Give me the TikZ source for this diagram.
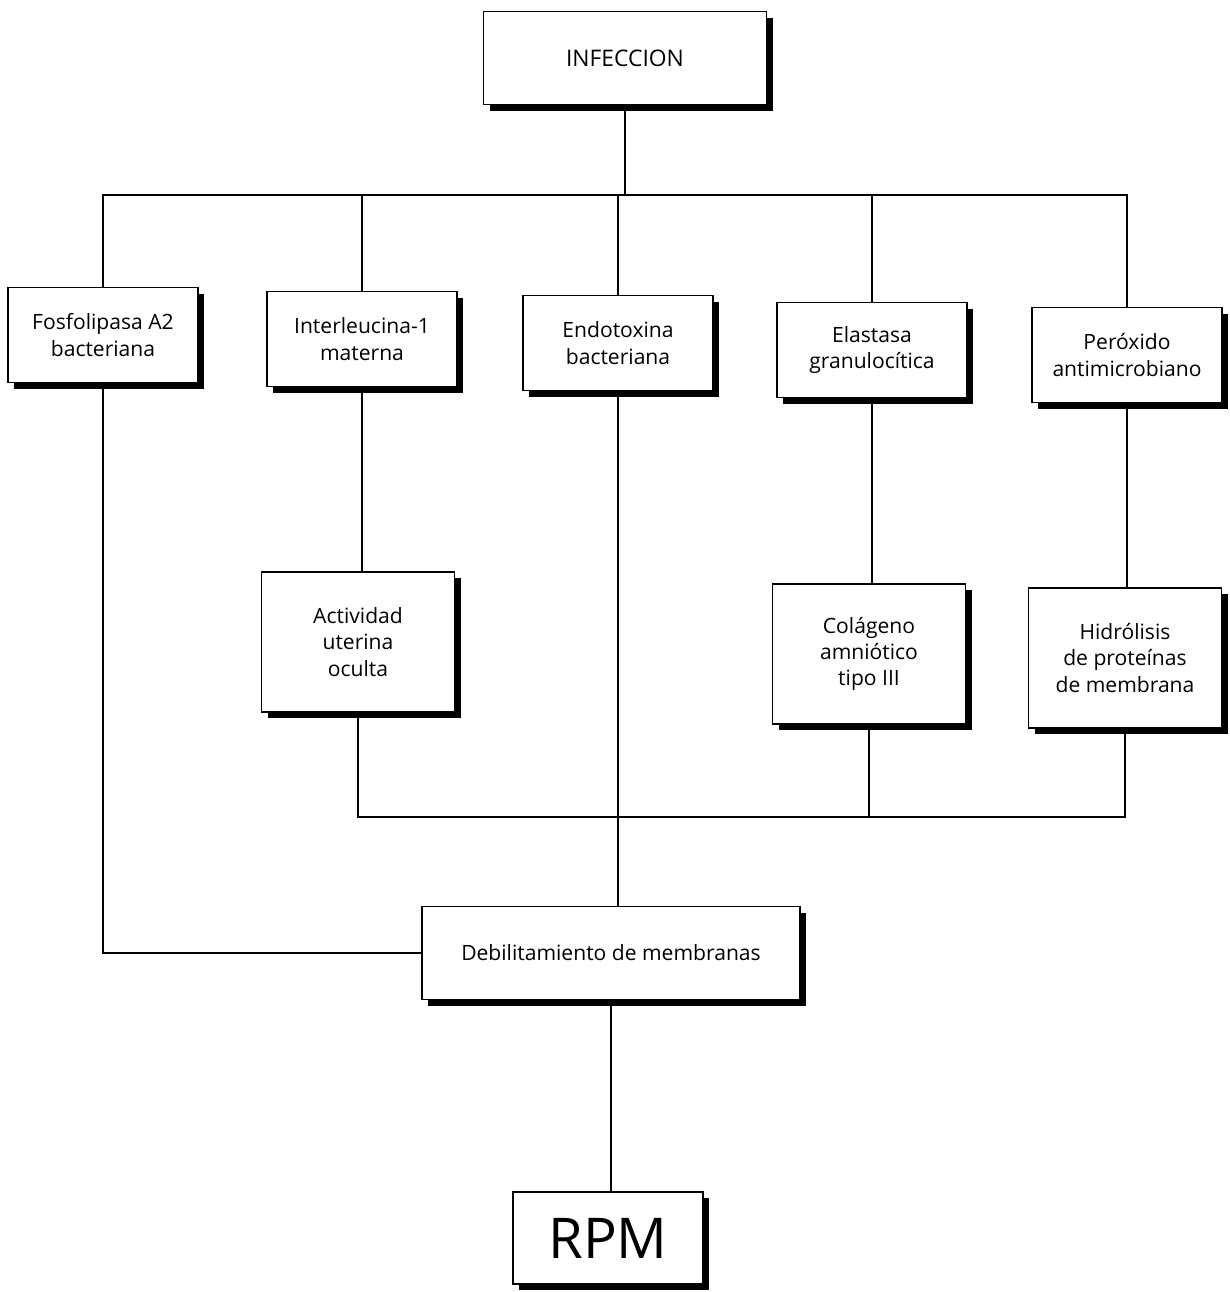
\documentclass[tikz,border=0pt]{standalone}
\usepackage{fontspec}
\setmainfont{Open Sans}
\usetikzlibrary{shadows}
\begin{document}
\begin{tikzpicture}[x=0.02cm, y=-0.02cm,
        box/.style={draw, line width=.8pt, fill=white, align=center,
          font=\fontsize{12}{15}\selectfont,
          drop shadow={shadow xshift=3.5pt, shadow yshift=-3.5pt, fill=black, opacity=1}},
        factor/.style={box, minimum width=3.8cm, minimum height=1.9cm},
        effect/.style={box, minimum width=3.86cm, minimum height=2.8cm},
        link/.style={line width=1pt}
        ]
        \useasboundingbox (0,0) rectangle (1230,1292);
        % source
        \node [name=infeccion, box, minimum width=5.66cm, minimum height=1.86cm,
          font=\fontsize{13}{16}\selectfont] at (625,58) {INFECCION};
        % factors
        \node [name=fosfo, factor] at (103,335) {Fosfolipasa A2\\bacteriana};
        \node [name=inter, factor] at (362,339) {Interleucina-1\\materna};
        \node [name=endo, factor] at (618,343) {Endotoxina\\bacteriana};
        \node [name=elast, factor] at (872,350) {Elastasa\\granulocítica};
        \node [name=perox, factor] at (1127,355) {Peróxido\\antimicrobiano};
        % effects
        \node [name=activ, effect] at (358,642) {Actividad\\uterina\\oculta};
        \node [name=colag, effect] at (869,654) {Colágeno\\amniótico\\tipo III};
        \node [name=hidro, effect] at (1125,658) {Hidrólisis\\de proteínas\\de membrana};
        \node [name=debil, box, minimum width=7.56cm, minimum height=1.86cm]
          at (611,953) {Debilitamiento de membranas};
        \node [name=rpm, box, minimum width=3.8cm, minimum height=1.84cm,
          font=\fontsize{32}{36}\selectfont] at (608,1238) {RPM};
        \coordinate (topbus) at (625,195);
        \coordinate (lowbus) at (869,817);
        \begin{scope}[link]
          \draw (infeccion.south) -- (topbus);
          \foreach \n in {fosfo, inter, endo, elast, perox}
            \draw (\n.north) |- (topbus);
          \draw (fosfo.south) |- (debil.west);
          \draw (inter.south) -- (inter.south |- activ.north);
          \draw (elast.south) -- (elast.south |- colag.north);
          \draw (perox.south) -- (perox.south |- hidro.north);
          \draw (activ.south) |- (lowbus) -| (hidro.south);
          \draw (colag.south) -- (lowbus);
          \draw (endo.south) -- (endo.south |- debil.north);
          \draw (debil.south) -- (debil.south |- rpm.north);
        \end{scope}
\end{tikzpicture}
\end{document}
